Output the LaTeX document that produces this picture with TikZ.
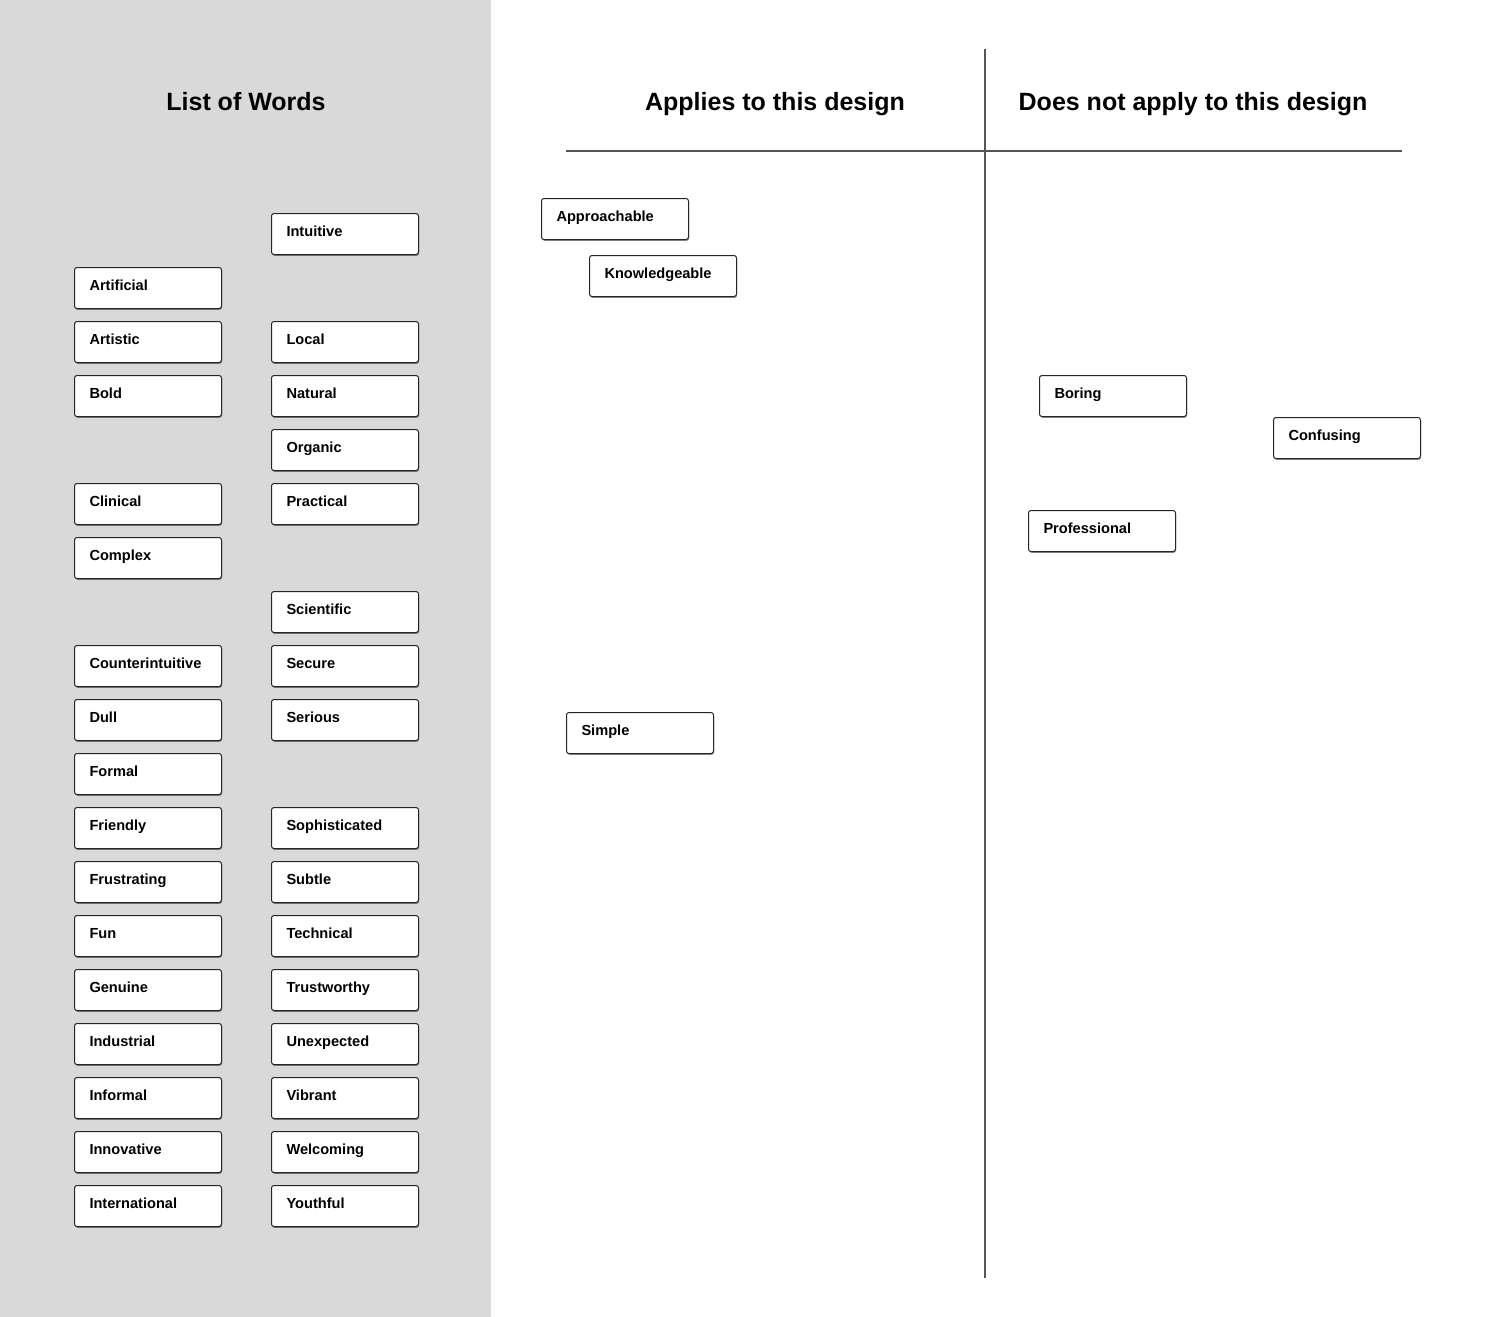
\documentclass[tikz,border=0pt]{standalone}
\usepackage{fontspec}
\setmainfont{Liberation Sans}
\usetikzlibrary{shadows}
\definecolor{panel}{HTML}{D9D9D9}
\definecolor{rule}{HTML}{555555}
\tikzset{
  wbox/.style={draw=black!85, fill=white, line width=1pt, rounded corners=2.5pt,
    anchor=north west, minimum width=147pt, minimum height=41pt,
    inner xsep=15pt, inner ysep=0pt, text width=117pt, align=left,
    text height=10.5pt, text depth=6pt,
    font=\fontsize{14.6pt}{16pt}\selectfont\bfseries,
    drop shadow={shadow xshift=0.6pt, shadow yshift=-1.3pt, opacity=0.45, fill=black}},
  title/.style={font=\fontsize{25pt}{30pt}\selectfont\bfseries, anchor=base},
  divider/.style={draw=rule, line width=1.2pt}
}
\newcommand{\wb}[4]{\node[wbox] (#1) at (#2,#3) {#4};}
\begin{document}
\begin{tikzpicture}[x=1pt,y=-1pt]
\useasboundingbox (0,0) rectangle (1500,1317);
\fill[panel] (0,0) rectangle (491,1317);
\node[title] (tList) at (246,110) {List of Words};
\node[title] (tApp) at (775,110) {Applies to this design};
\node[title] (tNot) at (1193,110) {Does not apply to this design};
\coordinate (vTop) at (985,49);
\coordinate (vBot) at (985,1278);
\coordinate (hL) at (566,151);
\coordinate (hR) at (1402,151);
\draw[divider] (vTop) -- (vBot);
\draw[divider] (hL) -- (hR);
% column 1
\wb{artificial}{74}{267}{Artificial}
\wb{artistic}{74}{321}{Artistic}
\wb{bold}{74}{375}{Bold}
\wb{clinical}{74}{483}{Clinical}
\wb{complex}{74}{537}{Complex}
\wb{counter}{74}{645}{Counterintuitive}
\wb{dull}{74}{699}{Dull}
\wb{formal}{74}{753}{Formal}
\wb{friendly}{74}{807}{Friendly}
\wb{frustrating}{74}{861}{Frustrating}
\wb{fun}{74}{915}{Fun}
\wb{genuine}{74}{969}{Genuine}
\wb{industrial}{74}{1023}{Industrial}
\wb{informal}{74}{1077}{Informal}
\wb{innovative}{74}{1131}{Innovative}
\wb{international}{74}{1185}{International}
% column 2
\wb{intuitive}{271}{213}{Intuitive}
\wb{local}{271}{321}{Local}
\wb{natural}{271}{375}{Natural}
\wb{organic}{271}{429}{Organic}
\wb{practical}{271}{483}{Practical}
\wb{scientific}{271}{591}{Scientific}
\wb{secure}{271}{645}{Secure}
\wb{serious}{271}{699}{Serious}
\wb{sophisticated}{271}{807}{Sophisticated}
\wb{subtle}{271}{861}{Subtle}
\wb{technical}{271}{915}{Technical}
\wb{trustworthy}{271}{969}{Trustworthy}
\wb{unexpected}{271}{1023}{Unexpected}
\wb{vibrant}{271}{1077}{Vibrant}
\wb{welcoming}{271}{1131}{Welcoming}
\wb{youthful}{271}{1185}{Youthful}
% sorted
\wb{approachable}{541}{198}{Approachable}
\wb{knowledgeable}{589}{255}{Knowledgeable}
\wb{simple}{566}{712}{Simple}
\wb{boring}{1039}{375}{Boring}
\wb{confusing}{1273}{417}{Confusing}
\wb{professional}{1028}{510}{Professional}
\end{tikzpicture}
\end{document}
